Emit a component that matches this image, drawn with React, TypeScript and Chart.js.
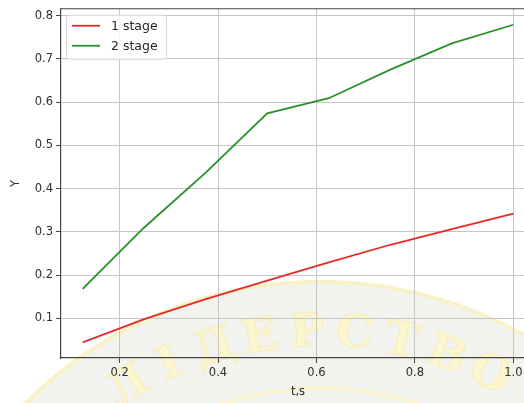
import React, { useEffect, useRef } from "react";
import { Chart, registerables } from "chart.js";

Chart.register(...registerables);

// ---- data ----
const T_VALUES = [0.125, 0.25, 0.375, 0.5, 0.625, 0.75, 0.875, 1.0];
const STAGE1 = [0.044, 0.098, 0.144, 0.187, 0.229, 0.27, 0.306, 0.342];
const STAGE2 = [0.168, 0.31, 0.437, 0.574, 0.609, 0.675, 0.736, 0.779];
const SERIES_LABELS = ["1 stage", "2 stage"];
const X_TICKS = [0.2, 0.4, 0.6, 0.8, 1.0];
const Y_TICKS = [0.1, 0.2, 0.3, 0.4, 0.5, 0.6, 0.7, 0.8];
const X_LABEL = "t,s";
const Y_LABEL = "Y";
const WATERMARK = "ЛІДЕРСТВО";

const FONT = "DejaVu Sans";
const TEXT = "#2e2e2e";
const AXIS = "#444444";

const watermarkPlugin = {
  id: "watermark",
  beforeDraw(chart: any) {
    const ctx = chart.ctx as CanvasRenderingContext2D;
    const cx = 320;
    const cy = 700;
    ctx.save();
    ctx.beginPath();
    ctx.arc(cx, cy, 420, 0, Math.PI * 2);
    ctx.fillStyle = "rgba(232,232,226,0.55)";
    ctx.fill();
    ctx.beginPath();
    ctx.arc(cx, cy, 418, 0, Math.PI * 2);
    ctx.strokeStyle = "rgba(251,242,195,0.9)";
    ctx.lineWidth = 4;
    ctx.stroke();
    ctx.beginPath();
    ctx.arc(cx, cy, 312, 0, Math.PI * 2);
    ctx.strokeStyle = "rgba(251,244,205,0.9)";
    ctx.lineWidth = 4;
    ctx.stroke();
    const letters = Array.from(WATERMARK);
    const startAng = -31.5;
    const step = 59 / (letters.length - 1);
    ctx.font = `bold 46px "DejaVu Serif"`;
    ctx.textAlign = "center";
    ctx.textBaseline = "middle";
    letters.forEach((ch, i) => {
      const a = ((startAng + i * step) * Math.PI) / 180;
      const r = 366;
      const x = cx + r * Math.sin(a);
      const y = cy - r * Math.cos(a);
      ctx.save();
      ctx.translate(x, y);
      ctx.rotate(a);
      ctx.fillStyle = "rgba(253,247,205,0.95)";
      ctx.fillText(ch, 0, 0);
      ctx.strokeStyle = "rgba(244,230,165,0.55)";
      ctx.lineWidth = 1;
      ctx.strokeText(ch, 0, 0);
      ctx.restore();
    });
    ctx.restore();
  },
};

const framePlugin = {
  id: "frame",
  afterDraw(chart: any) {
    const { ctx, chartArea } = chart;
    ctx.save();
    ctx.strokeStyle = AXIS;
    ctx.lineWidth = 1.2;
    ctx.beginPath();
    ctx.moveTo(chartArea.left, chartArea.top);
    ctx.lineTo(chartArea.right, chartArea.top);
    ctx.stroke();
    ctx.restore();
  },
};

const legendPlugin = {
  id: "mplLegend",
  afterDraw(chart: any) {
    const { ctx, chartArea } = chart;
    const x0 = chartArea.left + 5;
    const y0 = chartArea.top + 6;
    const w = 100;
    const h = 44;
    ctx.save();
    ctx.beginPath();
    (ctx as any).roundRect(x0 + 0.5, y0 + 0.5, w, h, 3);
    ctx.fillStyle = "rgba(255,255,255,0.85)";
    ctx.fill();
    ctx.strokeStyle = "#d6d6d6";
    ctx.lineWidth = 1;
    ctx.stroke();
    chart.data.datasets.forEach((ds: any, i: number) => {
      const y = y0 + 11 + i * 20;
      ctx.strokeStyle = ds.borderColor;
      ctx.lineWidth = 1.8;
      ctx.beginPath();
      ctx.moveTo(x0 + 6, y);
      ctx.lineTo(x0 + 34, y);
      ctx.stroke();
      ctx.fillStyle = "#262626";
      ctx.font = `12.5px "${FONT}"`;
      ctx.textBaseline = "middle";
      ctx.textAlign = "left";
      ctx.fillText(ds.label, x0 + 45, y + 0.5);
    });
    ctx.restore();
  },
};

export default function App() {
  const ref = useRef<HTMLCanvasElement | null>(null);

  useEffect(() => {
    if (!ref.current) return;
    const tickFont = { family: FONT, size: 11.5 };
    const chart = new Chart(ref.current, {
      type: "line",
      data: {
        datasets: [
          {
            label: SERIES_LABELS[0],
            data: T_VALUES.map((t, i) => ({ x: t, y: STAGE1[i] })),
            borderColor: "#e62a2a",
            borderWidth: 1.8,
            pointRadius: 0,
            fill: false,
            tension: 0,
          },
          {
            label: SERIES_LABELS[1],
            data: T_VALUES.map((t, i) => ({ x: t, y: STAGE2[i] })),
            borderColor: "#2a902a",
            borderWidth: 1.8,
            pointRadius: 0,
            fill: false,
            tension: 0,
          },
        ],
      },
      options: {
        animation: false,
        responsive: false,
        layout: { padding: { top: 7, right: 1, left: 0, bottom: 0 } },
        plugins: { legend: { display: false }, tooltip: { enabled: false } },
        scales: {
          x: {
            type: "linear",
            min: 0.081,
            max: 1.044,
            afterBuildTicks: (s: any) => {
              s.ticks = X_TICKS.map((v) => ({ value: v }));
            },
            afterFit: (s: any) => {
              s.height = 45;
            },
            ticks: {
              color: TEXT,
              font: tickFont,
              padding: 3,
              maxRotation: 0,
              autoSkip: false,
              callback: (v: any) => Number(v).toFixed(1),
            },
            grid: { color: "#c6c6c6", lineWidth: 1, drawTicks: true, tickLength: 5, tickColor: AXIS },
            border: { display: true, color: AXIS, width: 1.2 },
            title: { display: true, text: X_LABEL, color: TEXT, font: tickFont, padding: { top: 0, bottom: 4 } },
          },
          y: {
            type: "linear",
            min: 0.008,
            max: 0.816,
            afterBuildTicks: (s: any) => {
              s.ticks = Y_TICKS.map((v) => ({ value: v }));
            },
            afterFit: (s: any) => {
              s.width = 61;
            },
            ticks: {
              color: TEXT,
              font: { family: FONT, size: 11.5, lineHeight: 1 },
              padding: 3,
              autoSkip: false,
              callback: (v: any) => Number(v).toFixed(1),
            },
            grid: { color: "#c6c6c6", lineWidth: 1, drawTicks: true, tickLength: 5, tickColor: AXIS },
            border: { display: true, color: AXIS, width: 1.2 },
            title: { display: true, text: Y_LABEL, color: TEXT, font: tickFont, padding: { top: 9, bottom: 0 } },
          },
        },
      },
      plugins: [watermarkPlugin, framePlugin, legendPlugin],
    } as any);
    return () => chart.destroy();
  }, []);

  return (
    <div
      style={{
        position: "fixed",
        left: 0,
        top: 0,
        width: 524,
        height: 403,
        overflow: "hidden",
        background: "#ffffff",
      }}
    >
      <canvas ref={ref} width={536} height={403} style={{ display: "block", width: 536, height: 403 }} />
    </div>
  );
}
